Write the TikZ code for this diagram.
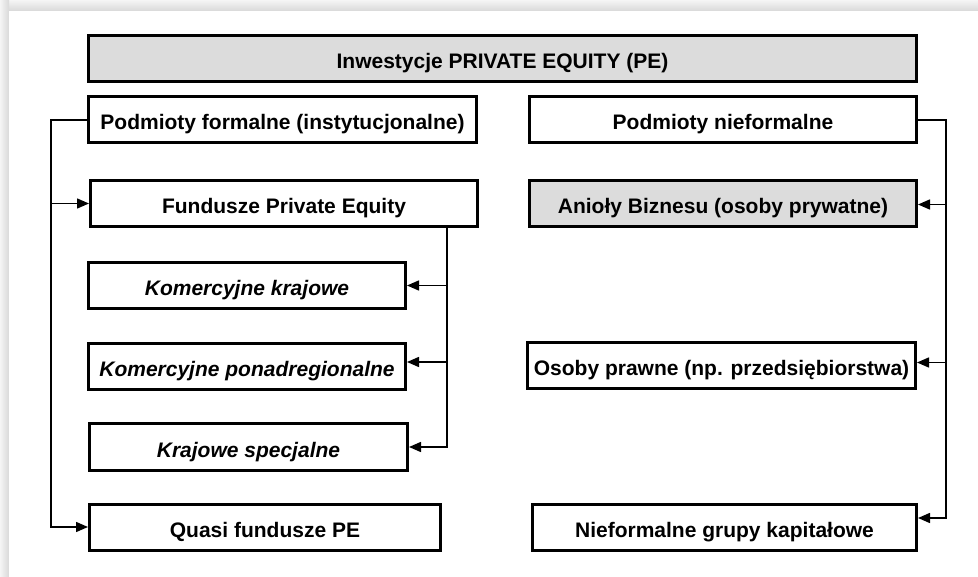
\documentclass[tikz,border=0pt]{standalone}
\usepackage{fontspec}
\setmainfont{Liberation Sans}
\usetikzlibrary{arrows.meta}
\definecolor{boxgray}{RGB}{220,220,220}
\begin{document}
\begin{tikzpicture}[x=1pt,y=-1pt,
		box/.style={draw, line width=3pt, minimum height=46pt, inner sep=0pt, text height=24pt, text depth=4pt, font=\fontsize{21}{25}\selectfont\bfseries},
		ibox/.style={box, font=\fontsize{21}{25}\selectfont\bfseries\itshape},
		conn/.style={line width=1.5pt},
		arr/.style={conn, -{Triangle[length=12pt,width=10pt]}}]
		\useasboundingbox (0,0) rectangle (978,577);
		\shade[top color=gray!8, bottom color=gray!30] (0,0) rectangle (978,11);
		\shade[left color=gray!8, right color=gray!30] (0,0) rectangle (9,577);
		\fill[white] (9,11) rectangle (978,577);
		% boxes
		\node[box, fill=boxgray, minimum width=828pt] (title) at (502.5,58.5) {Inwestycje PRIVATE EQUITY (PE)};
		\node[box, minimum width=388pt] (formal) at (282.5,120) {Podmioty formalne (instytucjonalne)};
		\node[box, minimum width=387pt] (nief) at (723,120) {Podmioty nieformalne};
		\node[box, minimum width=387pt] (fund) at (284,203.5) {Fundusze Private Equity};
		\node[box, fill=boxgray, minimum width=387pt] (aniol) at (723,203.5) {Anioły Biznesu (osoby prywatne)};
		\node[ibox, minimum width=317pt] (kk) at (247,285.5) {Komercyjne krajowe};
		\node[ibox, minimum width=317pt] (kp) at (247,367) {Komercyjne ponadregionalne};
		\node[ibox, minimum width=318pt] (ks) at (248.5,447) {Krajowe specjalne};
		\node[box, minimum width=351pt] (quasi) at (265,527) {Quasi fundusze PE};
		\node[box, minimum width=388pt] (osoby) at (721.5,365.5) {Osoby prawne (np. przedsiębiorstwa)};
		\node[box, minimum width=384pt] (grupy) at (724.5,527) {Nieformalne grupy kapitałowe};
		% trunks
		\coordinate (trunkL) at (51,0);
		\coordinate (trunkM) at (447,0);
		\coordinate (trunkR) at (946,0);
		% connectors
		\draw[arr] (formal.west) -- (formal.west -| trunkL) |- (quasi.west);
		\draw[arr] (fund.west -| trunkL) -- (fund.west);
		\draw[arr] (fund.south -| trunkM) |- (ks.east);
		\draw[arr] (kk.east -| trunkM) -- (kk.east);
		\draw[arr] ([yshift=5pt]kp.east -| trunkM) -- ([yshift=5pt]kp.east);
		\draw[arr] (nief.east) -- (nief.east -| trunkR) |- ([yshift=9pt]grupy.east);
		\draw[arr] ([yshift=-1pt]aniol.east -| trunkR) -- ([yshift=-1pt]aniol.east);
		\draw[arr] ([yshift=3pt]osoby.east -| trunkR) -- ([yshift=3pt]osoby.east);
	\end{tikzpicture}
\end{document}
